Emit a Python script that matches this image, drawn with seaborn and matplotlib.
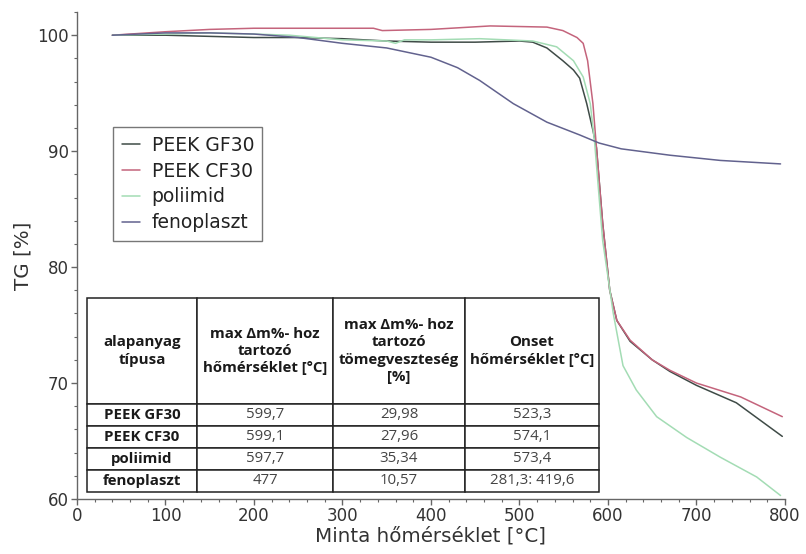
import numpy as np
import pandas as pd
import matplotlib
matplotlib.use('Agg')
import matplotlib.pyplot as plt
import seaborn as sns
from matplotlib.ticker import MultipleLocator

sns.set_theme(style='white')
plt.rcParams['font.family'] = ['DejaVu Sans']

# ---------------- data ----------------
series_names = ['PEEK GF30', 'PEEK CF30', 'poliimid', 'fenoplaszt']

gf30_t = [40, 100, 150, 200, 250, 300, 350, 400, 450, 500, 515, 531, 549, 561,
          568, 576, 583, 587, 594, 602, 610, 625, 650, 670, 700, 745, 797]
gf30_tg = [100.0, 100.0, 99.9, 99.8, 99.8, 99.7, 99.5, 99.4, 99.4, 99.5, 99.4,
           98.9, 97.8, 97.0, 96.3, 94.1, 91.8, 90.3, 83.8, 78.0, 75.4, 73.6,
           72.0, 71.0, 69.8, 68.3, 65.4]

cf30_t = [40, 100, 150, 200, 300, 335, 345, 400, 467, 531, 549, 565, 572, 577,
          583, 587, 594, 602, 610, 625, 650, 670, 700, 750, 797]
cf30_tg = [100.0, 100.3, 100.5, 100.6, 100.6, 100.6, 100.4, 100.5, 100.8, 100.7,
           100.4, 99.8, 99.3, 97.8, 94.1, 90.3, 83.8, 78.0, 75.4, 73.7, 72.0,
           71.1, 70.0, 68.8, 67.1]

pi_t = [40, 100, 150, 200, 240, 300, 350, 360, 370, 400, 455, 515, 542, 561,
        572, 580, 585, 594, 606, 617, 632, 655, 689, 727, 768, 795]
pi_tg = [100.0, 100.1, 100.2, 100.1, 100.0, 99.6, 99.5, 99.3, 99.6, 99.6, 99.7,
         99.5, 99.0, 97.8, 96.4, 94.1, 90.7, 82.3, 76.0, 71.5, 69.4, 67.1, 65.3,
         63.6, 61.9, 60.3]

feno_t = [40, 100, 150, 200, 250, 300, 350, 400, 430, 455, 493, 531, 568, 590,
          615, 670, 727, 795]
feno_tg = [100.0, 100.2, 100.2, 100.1, 99.8, 99.3, 98.9, 98.1, 97.2, 96.1, 94.1,
           92.5, 91.4, 90.7, 90.2, 89.65, 89.2, 88.9]

series_t = [gf30_t, cf30_t, pi_t, feno_t]
series_tg = [gf30_tg, cf30_tg, pi_tg, feno_tg]
colors = ['#3f4b47', '#c4647c', '#a3dcb4', '#62628e']

x_ticks = [0, 100, 200, 300, 400, 500, 600, 700, 800]
y_ticks = [60, 70, 80, 90, 100]

table_header = ['alapanyag\ntípusa',
                'max Δm%- hoz\ntartozó\nhőmérséklet [°C]',
                'max Δm%- hoz\ntartozó\ntömegveszteség\n[%]',
                'Onset\nhőmérséklet [°C]']
table_names = ['PEEK GF30', 'PEEK CF30', 'poliimid', 'fenoplaszt']
table_temp = ['599,7', '599,1', '597,7', '477']
table_loss = ['29,98', '27,96', '35,34', '10,57']
table_onset = ['523,3', '574,1', '573,4', '281,3: 419,6']

# ---------------- build frame ----------------
frames = []
for name, t, tg in zip(series_names, series_t, series_tg):
    frames.append(pd.DataFrame({'T': t, 'TG': tg, 'minta': name,
                                'order': np.arange(len(t))}))
df = pd.concat(frames, ignore_index=True)
palette = dict(zip(series_names, colors))

# ---------------- figure ----------------
fig = plt.figure(figsize=(8.06, 5.54), dpi=100)
ax = fig.add_axes([0.0955, 0.0993, 0.8784, 0.879])

sns.lineplot(data=df, x='T', y='TG', hue='minta', hue_order=series_names,
             palette=palette, estimator=None, sort=False, linewidth=1.1,
             ax=ax)

ax.set_xlim(0, 800)
ax.set_ylim(60, 102)
ax.set_xticks(x_ticks)
ax.set_yticks(y_ticks)
ax.xaxis.set_minor_locator(MultipleLocator(20))
ax.yaxis.set_minor_locator(MultipleLocator(2))

for s in ['top', 'right']:
    ax.spines[s].set_visible(False)
for s in ['left', 'bottom']:
    ax.spines[s].set_color('#666666')
    ax.spines[s].set_linewidth(1.0)

ax.tick_params(which='major', direction='out', length=4, width=1.0,
               color='#666666', labelsize=12, labelcolor='#333333',
               left=True, bottom=True, pad=2)
ax.tick_params(which='minor', direction='out', length=2.5, width=0.8,
               color='#666666', left=True, bottom=True)

ax.set_xlabel('Minta hőmérséklet [°C]', fontsize=14.3, color='#333333',
              labelpad=1)
ax.set_ylabel('TG [%]', fontsize=14.3, color='#333333', labelpad=3)

handles, labels = ax.get_legend_handles_labels()
leg = ax.legend(handles, labels, loc='upper left',
                bbox_to_anchor=(0.051, 0.763), fontsize=13.5, frameon=True,
                fancybox=False, edgecolor='#777777', framealpha=1,
                handlelength=1.0, handletextpad=0.6, borderpad=0.45,
                labelspacing=0.36, borderaxespad=0)
leg.get_frame().set_linewidth(1.0)
for txt in leg.get_texts():
    txt.set_color('#222222')

# ---------------- table ----------------
cell_text = [table_header] + [list(r) for r in zip(table_names, table_temp,
                                                    table_loss, table_onset)]
tbl = ax.table(cellText=cell_text, cellLoc='center',
               bbox=[0.0141, 0.0144, 0.7232, 0.3985])
tbl.auto_set_font_size(False)
col_w = [110, 136, 132, 134]
row_h = [106, 22, 22, 22, 22]
for (r, c), cell in tbl.get_celld().items():
    cell.set_width(col_w[c])
    cell.set_height(row_h[r])
    cell.set_edgecolor('#222222')
    cell.set_linewidth(1.1)
    cell.set_facecolor('white')
    txt = cell.get_text()
    txt.set_fontfamily(['Open Sans', 'DejaVu Sans'])
    txt.set_fontsize(10.8)
    txt.set_linespacing(1.3)
    if r == 0 or c == 0:
        txt.set_fontweight('bold')
        txt.set_color('#1a1a1a')
    else:
        txt.set_color('#444444')

fig.savefig('out.png', dpi=100)
